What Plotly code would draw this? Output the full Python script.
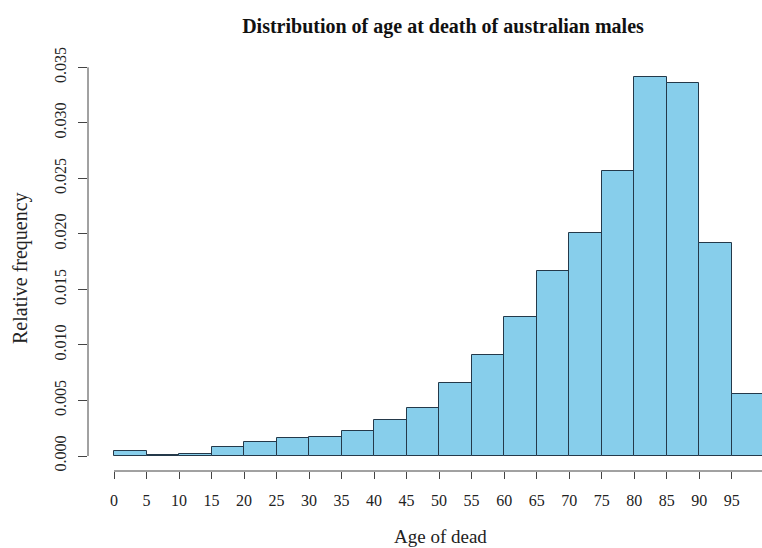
import plotly.graph_objects as go

# Age bins (lower edges, 5-year width) and relative frequency per bin
bin_starts = [0, 5, 10, 15, 20, 25, 30, 35, 40, 45, 50, 55, 60, 65, 70, 75, 80, 85, 90, 95]
bin_width = 5
rel_freq = [0.00045, 0.00012, 0.00020, 0.00078, 0.00126, 0.00162, 0.00171, 0.00225,
            0.00324, 0.00435, 0.00655, 0.00909, 0.01254, 0.01662, 0.02010, 0.02570,
            0.03410, 0.03361, 0.01915, 0.00558]

x_ticks = list(range(0, 100, 5))
y_ticks = [0.000, 0.005, 0.010, 0.015, 0.020, 0.025, 0.030, 0.035]
y_tick_text = [f"{v:.3f}" for v in y_ticks]

SERIF = "Liberation Serif, Times New Roman, serif"
AXIS_COLOR = "#444444"

centers = [s + bin_width / 2 for s in bin_starts]

fig = go.Figure(
    go.Bar(
        x=centers,
        y=rel_freq,
        width=bin_width,
        base=0,
        marker=dict(color="#87CEEB", line=dict(color="#24394a", width=1)),
        hoverinfo="skip",
    )
)

W, H = 762, 548
ml, mr, mt, mb = 88, 0, 63, 77

fig.update_layout(
    width=W,
    height=H,
    margin=dict(l=ml, r=mr, t=mt, b=mb),
    paper_bgcolor="white",
    plot_bgcolor="white",
    showlegend=False,
    bargap=0,
    font=dict(family=SERIF, color="#222222"),
    title=dict(
        text="<b>Distribution of age at death of australian males</b>",
        font=dict(family=SERIF, size=20, color="#111111"),
        x=(443 - ml) / (W - ml - mr),
        xref="paper",
        xanchor="center",
        y=1 - 26 / H,
        yref="container",
        yanchor="middle",
    ),
    xaxis=dict(
        range=[-4, 99.66],
        tickmode="array",
        tickvals=x_ticks,
        ticktext=[str(v) for v in x_ticks],
        ticks="outside",
        ticklen=7,
        tickwidth=1,
        tickcolor=AXIS_COLOR,
        showline=False,
        showgrid=False,
        zeroline=False,
        tickfont=dict(family=SERIF, size=16, color="#222222"),
        ticklabelstandoff=8,
    ),
    yaxis=dict(
        range=[-0.00135, 0.03539],
        tickmode="array",
        tickvals=y_ticks,
        ticktext=y_tick_text,
        tickangle=-90,
        ticks="outside",
        ticklen=9,
        tickwidth=1,
        tickcolor=AXIS_COLOR,
        showline=False,
        showgrid=False,
        zeroline=False,
        tickfont=dict(family=SERIF, size=16, color="#222222"),
        ticklabelstandoff=6,
    ),
    shapes=[
        # R-style axis lines spanning only the tick range
        dict(type="line", xref="x", yref="paper", x0=0, x1=100, y0=0, y1=0,
             line=dict(color=AXIS_COLOR, width=1)),
        dict(type="line", xref="paper", yref="y", x0=0, x1=0, y0=0, y1=0.035,
             line=dict(color=AXIS_COLOR, width=1)),
    ],
    annotations=[
        dict(text="Age of dead", xref="paper", yref="paper",
             x=(440 - ml) / (W - ml - mr), y=(H - mb - 536) / (H - mt - mb),
             xanchor="center", yanchor="middle", showarrow=False,
             font=dict(family=SERIF, size=19, color="#222222")),
        dict(text="Relative frequency", xref="paper", yref="paper",
             x=(20 - ml) / (W - ml - mr), y=(H - mb - 268) / (H - mt - mb),
             xanchor="center", yanchor="middle", textangle=-90, showarrow=False,
             font=dict(family=SERIF, size=20, color="#222222")),
    ],
)

fig.write_html("out.html")
